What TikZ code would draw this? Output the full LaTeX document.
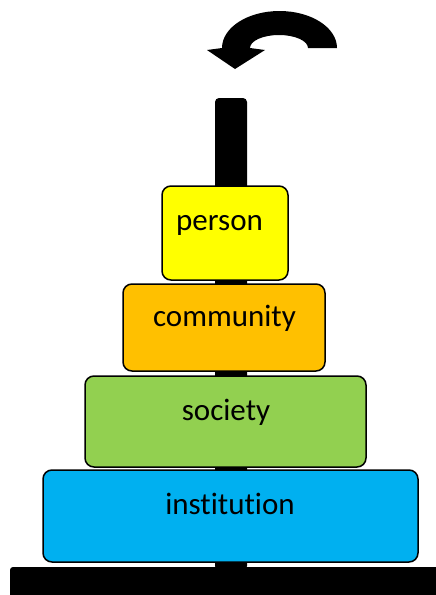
\documentclass[tikz,border=0pt]{standalone}
\usepackage{fontspec}
\setmainfont{Carlito}[RawFeature={-liga}]
\definecolor{cyel}{HTML}{FFFF00}
\definecolor{corg}{HTML}{FFC000}
\definecolor{cgrn}{HTML}{92D050}
\definecolor{cblu}{HTML}{00B0F0}
\tikzset{
  disc/.style={draw=black, line width=1.5pt, rounded corners=9pt},
  lbl/.style={font=\fontsize{31}{34}\selectfont, anchor=base, inner sep=0pt},
}
\begin{document}
\begin{tikzpicture}[x=1pt,y=-1pt]
\useasboundingbox (0,0) rectangle (436,595);
% pole
\fill[black, rounded corners=4pt] (215,98) rectangle (247,570);
% base
\fill[black, rounded corners=3pt] (10,567) rectangle (446,600);
% discs
\filldraw[disc, fill=cblu] (43,470) rectangle (418,562);
\filldraw[disc, fill=cgrn] (85,376) rectangle (366,467);
\filldraw[disc, fill=corg] (123,284) rectangle (325,371);
\filldraw[disc, fill=cyel] (162,186) rectangle (288,280);
\node[lbl] (tp) at (219.5,230) {person};
\node[lbl] (tc) at (224.5,326) {community};
\node[lbl] (ts) at (226,420) {society};
\node[lbl] (ti) at (230,514) {institution};
% curved arrow
\fill[black] (337,48) arc[start angle=0, end angle=-180, x radius=57.5, y radius=37]
  -- (207,50) -- (235,69) -- (265,50) -- (250,48)
  arc[start angle=180, end angle=360, x radius=29, y radius=13] -- cycle;
\end{tikzpicture}
\end{document}
